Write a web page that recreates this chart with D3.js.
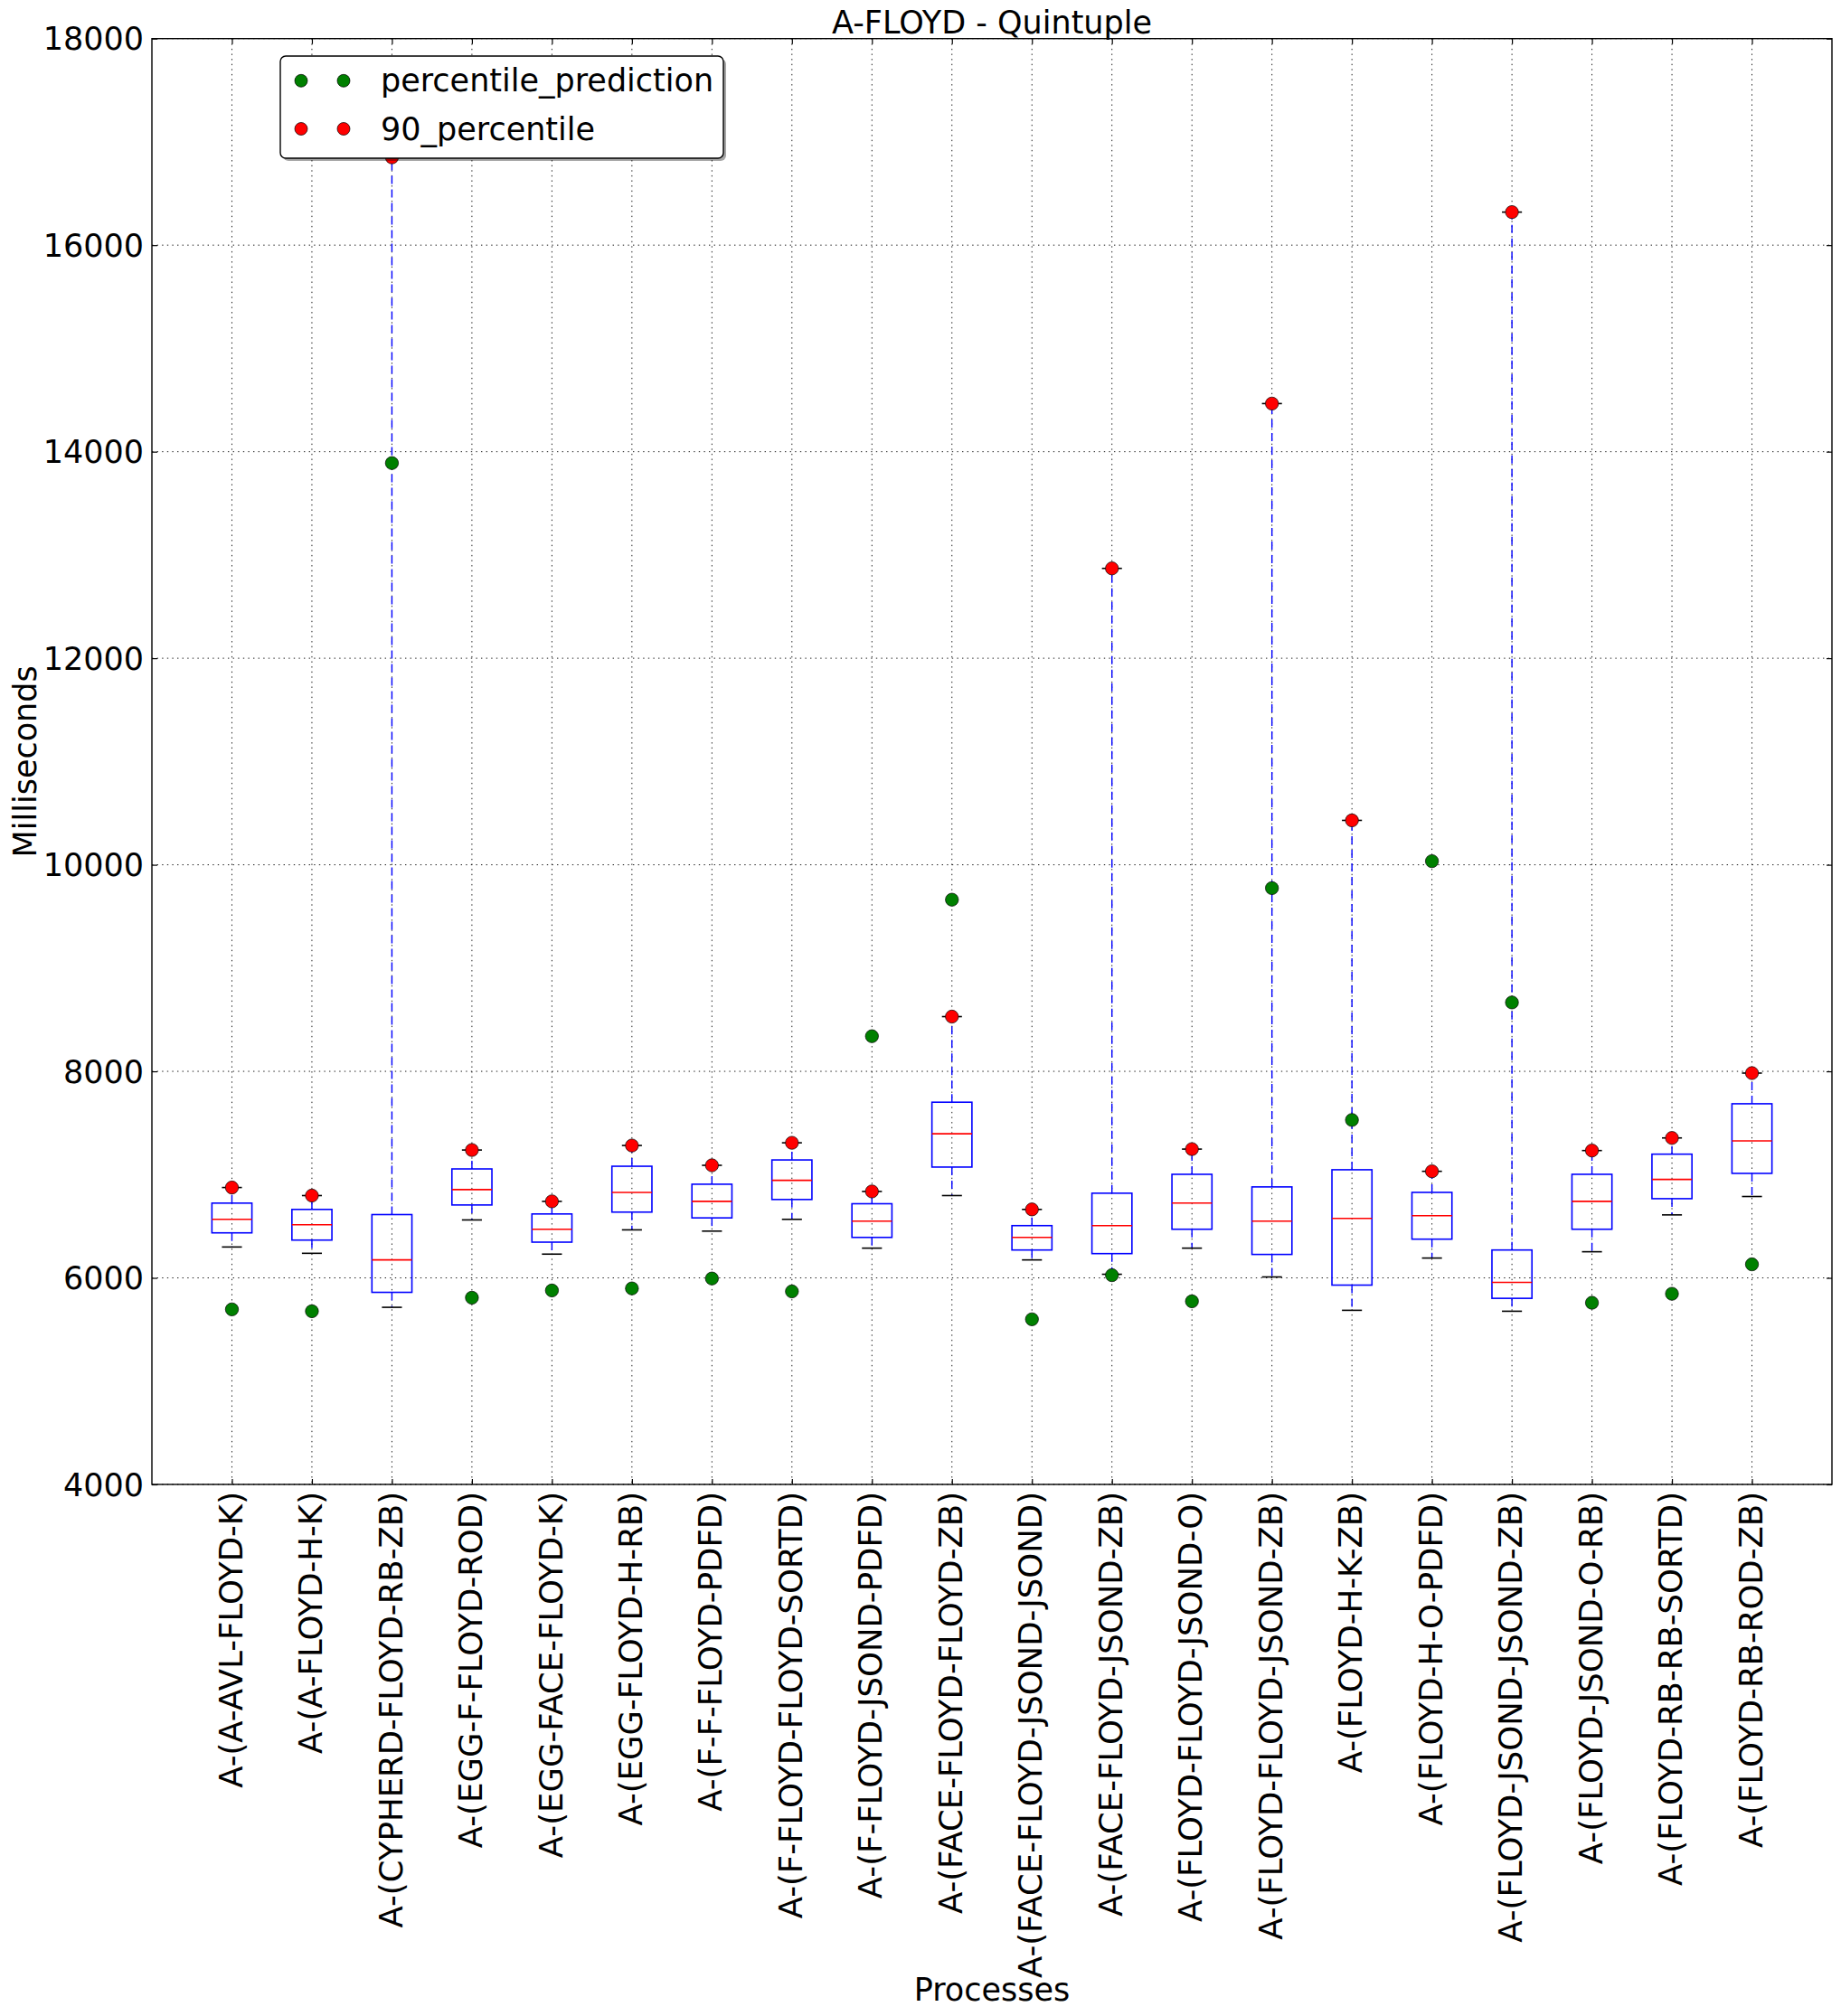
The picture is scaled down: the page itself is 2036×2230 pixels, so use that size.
<!DOCTYPE html>
<html>
<head>
<meta charset="utf-8">
<script src="https://cdn.jsdelivr.net/npm/d3@7/dist/d3.min.js"></script>
<style>
  html, body { margin: 0; padding: 0; background: #ffffff; }
  svg { display: block; }
  text { font-family: "DejaVu Sans", sans-serif; fill: #000; }
</style>
</head>
<body>
<svg id="chart" width="2036" height="2230"></svg>
<script>
// ---- data ----
const categories = [
  "A-(A-AVL-FLOYD-K)", "A-(A-FLOYD-H-K)", "A-(CYPHERD-FLOYD-RB-ZB)", "A-(EGG-F-FLOYD-ROD)",
  "A-(EGG-FACE-FLOYD-K)", "A-(EGG-FLOYD-H-RB)", "A-(F-F-FLOYD-PDFD)", "A-(F-FLOYD-FLOYD-SORTD)",
  "A-(F-FLOYD-JSOND-PDFD)", "A-(FACE-FLOYD-FLOYD-ZB)", "A-(FACE-FLOYD-JSOND-JSOND)", "A-(FACE-FLOYD-JSOND-ZB)",
  "A-(FLOYD-FLOYD-JSOND-O)", "A-(FLOYD-FLOYD-JSOND-ZB)", "A-(FLOYD-H-K-ZB)", "A-(FLOYD-H-O-PDFD)",
  "A-(FLOYD-JSOND-JSOND-ZB)", "A-(FLOYD-JSOND-O-RB)", "A-(FLOYD-RB-RB-SORTD)", "A-(FLOYD-RB-ROD-ZB)"
];
const whiskerLow  = [6299, 6238, 5715, 6561, 6230, 6465, 6453, 6567, 6288, 6797, 6174, 6035, 6288, 6009, 5686, 6192, 5677, 6253, 6610, 6788];
const q1          = [6436, 6366, 5860, 6706, 6346, 6637, 6581, 6759, 6392, 7073, 6270, 6235, 6471, 6227, 5930, 6375, 5802, 6471, 6767, 7012];
const median      = [6567, 6515, 6174, 6855, 6471, 6828, 6741, 6945, 6549, 7395, 6392, 6506, 6724, 6549, 6576, 6602, 5956, 6741, 6953, 7326];
const q3          = [6724, 6663, 6613, 7055, 6619, 7081, 6907, 7142, 6718, 7701, 6506, 6820, 7003, 6881, 7047, 6828, 6270, 7003, 7198, 7686];
const whiskerHigh = [6875, 6797, 16850, 7238, 6741, 7282, 7090, 7308, 6837, 8530, 6663, 12870, 7247, 14466, 10430, 7032, 16320, 7233, 7355, 7983];
const percentile90 = [6875, 6797, 16850, 7238, 6741, 7282, 7090, 7308, 6837, 8530, 6663, 12870, 7247, 14466, 10430, 7032, 16320, 7233, 7355, 7983];
const percentilePrediction = [5695, 5677, 13890, 5808, 5878, 5898, 5994, 5869, 8340, 9662, 5599, 6026, 5773, 9774, 7529, 10035, 8667, 5759, 5846, 6131];
const yTicks = [4000, 6000, 8000, 10000, 12000, 14000, 16000, 18000];
const seriesNames = ["percentile_prediction", "90_percentile"];
const seriesColors = ["#008000", "#ff0000"];
const titleText = "A-FLOYD - Quintuple";
const xLabel = "Processes";
const yLabel = "Milliseconds";

// ---- layout ----
const L = 168, R = 2026, T = 42.7, B = 1642;
const svg = d3.select("#chart");
const x = d3.scaleLinear().domain([0, categories.length + 1]).range([L, R]);
const y = d3.scaleLinear().domain([4000, 18000]).range([B, T]);
const pos = categories.map((c, i) => i + 1);
const boxHalf = x(0.25) - x(0);
const capHalf = x(0.125) - x(0);
const FS = 35;

// grid
const grid = svg.append("g");
grid.selectAll("line.v").data(pos).enter().append("line")
  .attr("x1", d => x(d)).attr("x2", d => x(d)).attr("y1", T).attr("y2", B)
  .attr("stroke", "#000").attr("stroke-width", 0.9).attr("stroke-dasharray", "1.4,4.2");
grid.selectAll("line.h").data(yTicks).enter().append("line")
  .attr("x1", L).attr("x2", R).attr("y1", d => y(d)).attr("y2", d => y(d))
  .attr("stroke", "#000").attr("stroke-width", 0.9).attr("stroke-dasharray", "1.4,4.2");

// boxes
const boxes = svg.append("g");
const bd = categories.map((c, i) => ({i, p: pos[i]}));
boxes.selectAll("line.wl").data(bd).enter().append("line")
  .attr("x1", d => x(d.p)).attr("x2", d => x(d.p))
  .attr("y1", d => y(q1[d.i])).attr("y2", d => y(whiskerLow[d.i]))
  .attr("stroke", "#0000ff").attr("stroke-width", 1.4).attr("stroke-dasharray", "9,6");
boxes.selectAll("line.wh").data(bd).enter().append("line")
  .attr("x1", d => x(d.p)).attr("x2", d => x(d.p))
  .attr("y1", d => y(q3[d.i])).attr("y2", d => y(whiskerHigh[d.i]))
  .attr("stroke", "#0000ff").attr("stroke-width", 1.4).attr("stroke-dasharray", "9,6");
boxes.selectAll("rect.box").data(bd).enter().append("rect")
  .attr("x", d => x(d.p) - boxHalf).attr("width", boxHalf * 2)
  .attr("y", d => y(q3[d.i])).attr("height", d => y(q1[d.i]) - y(q3[d.i]))
  .attr("fill", "none").attr("stroke", "#0000ff").attr("stroke-width", 1.6);
boxes.selectAll("line.med").data(bd).enter().append("line")
  .attr("x1", d => x(d.p) - boxHalf).attr("x2", d => x(d.p) + boxHalf)
  .attr("y1", d => y(median[d.i])).attr("y2", d => y(median[d.i]))
  .attr("stroke", "#ff0000").attr("stroke-width", 1.6);
boxes.selectAll("line.capl").data(bd).enter().append("line")
  .attr("x1", d => x(d.p) - capHalf).attr("x2", d => x(d.p) + capHalf)
  .attr("y1", d => y(whiskerLow[d.i])).attr("y2", d => y(whiskerLow[d.i]))
  .attr("stroke", "#000").attr("stroke-width", 1.6);
boxes.selectAll("line.caph").data(bd).enter().append("line")
  .attr("x1", d => x(d.p) - capHalf).attr("x2", d => x(d.p) + capHalf)
  .attr("y1", d => y(whiskerHigh[d.i])).attr("y2", d => y(whiskerHigh[d.i]))
  .attr("stroke", "#000").attr("stroke-width", 1.6);

// points
const pts = svg.append("g");
[percentilePrediction, percentile90].forEach((arr, s) => {
  pts.selectAll("circle.s" + s).data(arr).enter().append("circle")
    .attr("cx", (d, i) => x(pos[i])).attr("cy", d => y(d)).attr("r", 7.2)
    .attr("fill", seriesColors[s]).attr("stroke", "#000").attr("stroke-width", 0.7);
});

// frame
svg.append("rect").attr("x", L).attr("y", T).attr("width", R - L).attr("height", B - T)
  .attr("fill", "none").attr("stroke", "#000").attr("stroke-width", 1.4);

// axes
const yAxis = svg.append("g").attr("transform", `translate(${L},0)`)
  .call(d3.axisLeft(y).tickValues(yTicks).tickFormat(d3.format("d")).tickSize(-6).tickPadding(9));
yAxis.select(".domain").remove();
yAxis.selectAll("text").attr("font-size", FS).attr("font-family", "DejaVu Sans").attr("dy", "0.35em");
yAxis.selectAll(".tick line").attr("stroke-width", 1.2);

const yAxisR = svg.append("g").attr("transform", `translate(${R},0)`)
  .call(d3.axisRight(y).tickValues(yTicks).tickFormat("").tickSize(-6));
yAxisR.select(".domain").remove();
yAxisR.selectAll(".tick line").attr("stroke-width", 1.2);

const xAxis = svg.append("g").attr("transform", `translate(0,${B})`)
  .call(d3.axisBottom(x).tickValues(pos).tickFormat((d, i) => categories[i]).tickSize(-6));
xAxis.select(".domain").remove();
xAxis.selectAll(".tick line").attr("stroke-width", 1.2);
xAxis.selectAll("text")
  .attr("font-size", 35.5).attr("font-family", "DejaVu Sans")
  .attr("transform", "rotate(-90)")
  .attr("text-anchor", "end")
  .attr("x", -8).attr("y", 0).attr("dy", "0.3em");

const xAxisT = svg.append("g").attr("transform", `translate(0,${T})`)
  .call(d3.axisTop(x).tickValues(pos).tickFormat("").tickSize(-6));
xAxisT.select(".domain").remove();
xAxisT.selectAll(".tick line").attr("stroke-width", 1.2);

// titles
svg.append("text").attr("x", (L + R) / 2).attr("y", 37).attr("text-anchor", "middle")
  .attr("font-size", 35).text(titleText);
svg.append("text").attr("x", (L + R) / 2).attr("y", 2213).attr("text-anchor", "middle")
  .attr("font-size", FS).text(xLabel);
svg.append("text").attr("transform", `translate(40,${(T + B) / 2}) rotate(-90)`)
  .attr("text-anchor", "middle").attr("font-size", FS).text(yLabel);

// legend
const lg = svg.append("g");
const lx = 310, ly = 62, lw = 490, lh = 113;
lg.append("rect").attr("x", lx + 3).attr("y", ly + 3).attr("width", lw).attr("height", lh)
  .attr("rx", 6).attr("fill", "#000").attr("opacity", 0.35);
lg.append("rect").attr("x", lx).attr("y", ly).attr("width", lw).attr("height", lh)
  .attr("rx", 6).attr("fill", "#fff").attr("stroke", "#000").attr("stroke-width", 1.4);
const rowsY = [89.3, 142.5];
seriesNames.forEach((name, s) => {
  [333, 380].forEach(cx => {
    lg.append("circle").attr("cx", cx).attr("cy", rowsY[s]).attr("r", 7)
      .attr("fill", seriesColors[s]).attr("stroke", "#000").attr("stroke-width", 0.7);
  });
  lg.append("text").attr("x", 421).attr("y", rowsY[s] + 12).attr("font-size", FS).text(name);
});
</script>
</body>
</html>
